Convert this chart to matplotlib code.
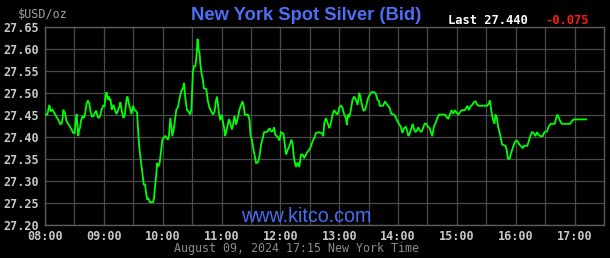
import matplotlib
matplotlib.use("Agg")
import matplotlib.pyplot as plt
import numpy as np

# minutes after 08:00 New York time
minutes = [0, 2.4, 3.4, 4.4, 5.8, 7.5, 9.2, 11.2, 13.6, 15.3, 16.9, 18.0, 18.6, 20.3, 22.0, 24.1, 25.4, 27.1, 28.8,
           30.2, 31.2, 32.2, 33.9, 34.9, 35.6, 36.6, 38.3, 39.7, 41.0, 42.4, 43.7, 45.1, 46.4, 47.8, 49.2, 50.8,
           52.2, 53.6, 54.9, 56.6, 57.6, 59.3, 60.7, 61.7, 62.7, 64.1, 65.4, 66.1, 66.8, 68.1, 69.8, 71.2, 72.9,
           74.6, 76.3, 76.9, 78.6, 80.0, 81.4, 83.1, 84.1, 85.4, 87.1, 88.1, 89.8, 91.2, 92.5, 93.9, 95.3, 96.6,
           98.0, 99.3, 100.7, 102.0, 102.7, 104.1, 105.4, 106.8, 110.2, 111.2, 112.2, 113.6, 114.2, 115.6, 116.9,
           118.3, 119.7, 121.0, 122.7, 125.4, 126.4, 127.8, 129.2, 129.8, 131.2, 132.5, 133.9, 135.6, 137.3,
           139.0, 140.7, 141.7, 143.1, 144.7, 146.4, 148.1, 149.2, 149.8, 150.8, 151.9, 153.2, 154.2, 155.6,
           156.6, 157.6, 158.3, 159.3, 161.0, 162.0, 164.4, 166.1, 167.8, 169.5, 171.2, 172.9, 173.9, 175.3,
           176.3, 177.3, 178.7, 180.0, 181.4, 182.7, 183.7, 184.8, 186.1, 187.5, 188.8, 190.5, 191.9, 193.2,
           194.9, 196.6, 198.3, 200.0, 201.4, 202.7, 203.7, 206.8, 208.5, 209.5, 210.9, 212.6, 213.9, 215.3,
           217.0, 218.7, 220.4, 222.1, 223.4, 225.4, 227.1, 228.8, 230.5, 232.2, 233.6, 234.9, 237.3, 239.0,
           240.7, 243.1, 244.4, 245.8, 247.5, 249.2, 251.2, 252.6, 253.6, 254.9, 256.0, 257.6, 259.3, 261.0,
           262.7, 264.4, 266.1, 267.8, 269.5, 271.2, 272.9, 274.6, 276.3, 279.7, 282.4, 283.7, 284.8, 286.5,
           288.2, 289.9, 291.5, 293.2, 294.9, 296.6, 298.3, 300.0, 301.7, 303.4, 305.1, 306.8, 307.8, 308.8,
           310.2, 311.9, 313.6, 315.3, 317.0, 318.7, 320.4, 321.4, 323.1, 324.8, 326.5, 327.8, 329.5, 331.2,
           332.9, 335.6, 337.3, 339.0, 340.7, 341.3, 344.7, 346.8, 348.1, 350.2, 351.5, 352.9, 355.9, 357.6,
           359.3, 361.0, 362.7, 364.4, 366.1, 367.8, 369.5, 370.5, 371.9, 373.2, 374.9, 376.3, 378.0, 379.7,
           380.7, 382.0, 383.7, 385.4, 387.1, 388.8, 390.2, 392.2, 393.2, 394.9, 396.6, 398.3, 400.0, 401.7,
           405.1, 407.8, 409.5, 411.2, 412.9, 414.6, 416.3, 418.0, 419.7, 421.4, 423.0, 424.7, 428.1, 429.5,
           430.8, 432.2, 433.9, 435.6, 437.3, 439.0, 440.7, 442.4, 450.8, 452.5, 453.6, 454.9, 456.6, 458.3,
           459.3, 460.7, 462.0, 463.7, 465.1, 466.1, 469.5, 470.8, 471.9, 473.6, 475.3, 477.0, 478.6, 480.3,
           482.0, 483.7, 485.4, 487.1, 488.5, 491.9, 493.2, 494.9, 496.6, 498.3, 500.0, 501.7, 503.4, 505.1,
           507.5, 509.2, 511.9, 513.6, 515.6, 519.7, 521.0, 522.4, 523.7, 525.4, 527.1, 535.6, 537.3, 539.0,
           550.9, 551.9]

prices = [27.451, 27.451, 27.462, 27.473, 27.458, 27.462, 27.456, 27.448, 27.439, 27.430, 27.430, 27.443, 27.462,
          27.455, 27.436, 27.428, 27.424, 27.417, 27.409, 27.409, 27.432, 27.452, 27.402, 27.417, 27.420, 27.436,
          27.448, 27.443, 27.455, 27.476, 27.483, 27.477, 27.458, 27.447, 27.447, 27.455, 27.460, 27.447, 27.443,
          27.451, 27.462, 27.471, 27.470, 27.492, 27.502, 27.485, 27.492, 27.483, 27.486, 27.462, 27.473, 27.462,
          27.452, 27.462, 27.473, 27.479, 27.455, 27.443, 27.451, 27.485, 27.492, 27.477, 27.462, 27.452, 27.471,
          27.462, 27.460, 27.455, 27.402, 27.367, 27.341, 27.318, 27.292, 27.292, 27.280, 27.258, 27.261, 27.252,
          27.252, 27.261, 27.288, 27.318, 27.341, 27.333, 27.341, 27.367, 27.394, 27.398, 27.402, 27.394, 27.403,
          27.443, 27.417, 27.402, 27.417, 27.439, 27.462, 27.468, 27.489, 27.504, 27.511, 27.523, 27.489, 27.462,
          27.458, 27.451, 27.462, 27.492, 27.547, 27.561, 27.561, 27.576, 27.623, 27.598, 27.591, 27.568, 27.549,
          27.530, 27.511, 27.509, 27.481, 27.466, 27.458, 27.451, 27.458, 27.477, 27.492, 27.476, 27.455, 27.438,
          27.451, 27.436, 27.420, 27.402, 27.413, 27.424, 27.441, 27.432, 27.417, 27.430, 27.448, 27.428, 27.443,
          27.462, 27.473, 27.481, 27.470, 27.451, 27.451, 27.439, 27.405, 27.394, 27.371, 27.356, 27.341, 27.342,
          27.356, 27.383, 27.398, 27.411, 27.411, 27.413, 27.420, 27.413, 27.413, 27.422, 27.405, 27.400, 27.392,
          27.411, 27.408, 27.386, 27.360, 27.371, 27.379, 27.394, 27.383, 27.356, 27.341, 27.332, 27.342, 27.332,
          27.360, 27.360, 27.352, 27.360, 27.367, 27.371, 27.379, 27.390, 27.398, 27.409, 27.411, 27.408, 27.402,
          27.432, 27.443, 27.432, 27.420, 27.432, 27.451, 27.461, 27.455, 27.451, 27.466, 27.472, 27.466, 27.451,
          27.443, 27.428, 27.451, 27.445, 27.462, 27.485, 27.492, 27.485, 27.473, 27.500, 27.494, 27.473, 27.460,
          27.462, 27.473, 27.489, 27.496, 27.502, 27.502, 27.498, 27.485, 27.481, 27.471, 27.471, 27.481, 27.476,
          27.470, 27.466, 27.453, 27.451, 27.445, 27.436, 27.430, 27.424, 27.409, 27.420, 27.423, 27.413, 27.402,
          27.408, 27.417, 27.430, 27.417, 27.411, 27.417, 27.422, 27.415, 27.411, 27.420, 27.430, 27.430, 27.424,
          27.420, 27.413, 27.402, 27.424, 27.432, 27.443, 27.451, 27.451, 27.451, 27.445, 27.441, 27.451, 27.461,
          27.453, 27.461, 27.455, 27.451, 27.456, 27.461, 27.461, 27.466, 27.471, 27.461, 27.470, 27.473, 27.479,
          27.481, 27.473, 27.471, 27.471, 27.476, 27.483, 27.462, 27.441, 27.430, 27.451, 27.445, 27.424, 27.409,
          27.394, 27.383, 27.380, 27.371, 27.352, 27.350, 27.364, 27.375, 27.386, 27.392, 27.390, 27.383, 27.379,
          27.375, 27.380, 27.380, 27.390, 27.403, 27.411, 27.409, 27.402, 27.411, 27.405, 27.402, 27.402, 27.411,
          27.413, 27.424, 27.430, 27.430, 27.441, 27.451, 27.445, 27.436, 27.430, 27.430, 27.436, 27.440, 27.440,
          27.440]

y_ticks = [27.20, 27.25, 27.30, 27.35, 27.40, 27.45, 27.50, 27.55, 27.60, 27.65]
x_tick_labels = ["08:00", "09:00", "10:00", "11:00", "12:00", "13:00", "14:00", "15:00", "16:00", "17:00"]

title = "New York Spot Silver (Bid)"
last_label = "Last 27.440"
change_label = "-0.075"
unit_label = "$USD/oz"
footer = "August 09, 2024 17:15 New York Time"
watermark = "www.kitco.com"

W, H = 610, 258
fig = plt.figure(figsize=(W / 100, H / 100), dpi=100, facecolor="black")
ax = fig.add_axes([45 / W, 33 / H, 559 / W, 198 / H], facecolor="black")

grid_c = "#4a4a4a"
mono = "DejaVu Sans Mono"

ax.plot(minutes, prices, color="#00ff00", lw=1.3, solid_joinstyle="miter", zorder=3)
ax.set_xlim(0, 570)
ax.set_ylim(27.20, 27.65)

ax.set_xticks(np.arange(0, 570, 60))
ax.set_xticklabels(x_tick_labels)
ax.set_xticks(np.arange(30, 570, 60), minor=True)
ax.set_yticks(y_ticks)
ax.set_yticklabels([f"{v:.2f}" for v in y_ticks])
ax.grid(True, which="both", color=grid_c, lw=0.9, zorder=1)
ax.tick_params(which="both", length=0)
ax.tick_params(axis="x", pad=3.5, colors="#c8c8c8", labelsize=8.5)
ax.tick_params(axis="y", pad=4, colors="#c8c8c8", labelsize=8.5)
for lab in ax.get_xticklabels() + ax.get_yticklabels():
    lab.set_fontfamily(mono)
    lab.set_fontweight("bold")
for s in ax.spines.values():
    s.set_color("#5a5a5a")
    s.set_linewidth(1.0)


def fx(px):
    return px / W


def fy(py):
    return 1 - py / H


fig.text(fx(306), fy(217), watermark, ha="center", va="center",
         fontsize=14.2, family="Liberation Sans", color="#4a6cf2", zorder=4)
fig.text(fx(306), fy(15), title, ha="center", va="center", fontsize=13.2,
         family="Liberation Sans", fontweight="bold", color="#4d6ff5")
fig.text(fx(18), fy(14), unit_label, ha="left", va="center", fontsize=8.5,
         family=mono, color="#a0a0a0")
fig.text(fx(448), fy(20), last_label, ha="left", va="center", fontsize=8.7,
         family=mono, fontweight="bold", color="white")
fig.text(fx(545), fy(20), change_label, ha="left", va="center", fontsize=8.7,
         family=mono, fontweight="bold", color="#ff1a1a")
fig.text(fx(296), fy(248.5), footer, ha="center", va="center", fontsize=8.4,
         family=mono, color="#8c8c8c")

fig.savefig("out.png", dpi=100, facecolor="black")
